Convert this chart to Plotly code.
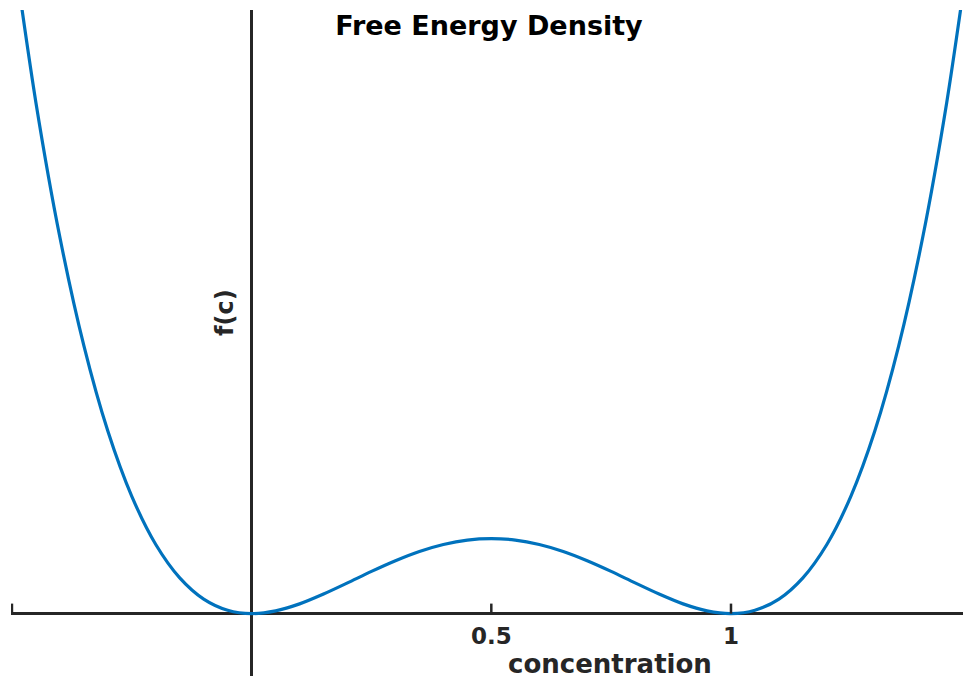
import plotly.graph_objects as go

# Double-well free energy density sampled along the concentration axis
concentration = [-0.50, -0.45, -0.40, -0.35, -0.30, -0.25, -0.20, -0.15, -0.10, -0.05,
                 0.00, 0.05, 0.10, 0.15, 0.20, 0.25, 0.30, 0.35, 0.40, 0.45,
                 0.50, 0.55, 0.60, 0.65, 0.70, 0.75, 0.80, 0.85, 0.90, 0.95,
                 1.00, 1.05, 1.10, 1.15, 1.20, 1.25, 1.30, 1.35, 1.40, 1.45, 1.50]
free_energy = [0.5625, 0.4258, 0.3136, 0.2233, 0.1521, 0.0977, 0.0576, 0.0298, 0.0121, 0.0028,
               0.0000, 0.0023, 0.0081, 0.0163, 0.0256, 0.0352, 0.0441, 0.0518, 0.0576, 0.0613,
               0.0625, 0.0613, 0.0576, 0.0518, 0.0441, 0.0352, 0.0256, 0.0163, 0.0081, 0.0023,
               0.0000, 0.0028, 0.0121, 0.0298, 0.0576, 0.0977, 0.1521, 0.2233, 0.3136, 0.4258, 0.5625]

tick_values = [-0.5, 0.5, 1]
tick_labels = ["", "0.5", "1"]

X_RANGE = [-0.502, 1.484]
Y_RANGE = [-0.052, 0.503]

AXIS_COLOR = "#262626"
LINE_COLOR = "#0072BD"
FONT = "DejaVu Sans"

fig = go.Figure()
fig.add_trace(go.Scatter(
    x=concentration, y=free_energy, mode="lines",
    line=dict(color=LINE_COLOR, width=3.2, shape="spline", smoothing=0.8),
    hoverinfo="skip", showlegend=False,
))

# x axis crosses the y axis at f = 0
x_axis_pos = (0 - Y_RANGE[0]) / (Y_RANGE[1] - Y_RANGE[0])

# upward tick marks sitting on the f = 0 axis
tick_shapes = [
    dict(type="line", xref="x", yref="y", x0=t, x1=t,
         ysizemode="pixel", yanchor=0, y0=0, y1=10,
         line=dict(color=AXIS_COLOR, width=2.5))
    for t in tick_values
]

fig.update_layout(
    width=963, height=679,
    margin=dict(l=11, r=0, t=10, b=3),
    paper_bgcolor="white", plot_bgcolor="white",
    title=dict(
        text="<b>Free Energy Density</b>",
        x=489 / 963, y=1 - 26 / 679, xref="container", yref="container",
        xanchor="center", yanchor="middle",
        font=dict(family=FONT, size=27, color="black"),
    ),
    xaxis=dict(
        range=X_RANGE, showgrid=False,
        zeroline=True, zerolinecolor=AXIS_COLOR, zerolinewidth=3,
        showline=False,
        anchor="free", position=x_axis_pos,
        tickmode="array", tickvals=tick_values,
        ticktext=[f"<b>{s}</b>" if s else "" for s in tick_labels],
        ticks="", ticklabelstandoff=6,
        tickfont=dict(family=FONT, size=23, color=AXIS_COLOR),
        fixedrange=True,
    ),
    yaxis=dict(
        range=Y_RANGE, showgrid=False,
        zeroline=True, zerolinecolor=AXIS_COLOR, zerolinewidth=3,
        showline=False, showticklabels=False, ticks="",
        fixedrange=True,
    ),
    shapes=tick_shapes,
    annotations=[
        dict(
            text="<b>f(c)</b>", textangle=-90,
            x=(225 - 11) / 952, y=(676 - 313) / 666, xref="paper", yref="paper",
            xanchor="center", yanchor="middle", showarrow=False,
            font=dict(family=FONT, size=24, color=AXIS_COLOR),
        ),
        dict(
            text="<b>concentration</b>",
            x=(610 - 11) / 952, y=(676 - 664) / 666, xref="paper", yref="paper",
            xanchor="center", yanchor="middle", showarrow=False,
            font=dict(family=FONT, size=26, color=AXIS_COLOR),
        ),
    ],
)

fig.write_html("out.html")
